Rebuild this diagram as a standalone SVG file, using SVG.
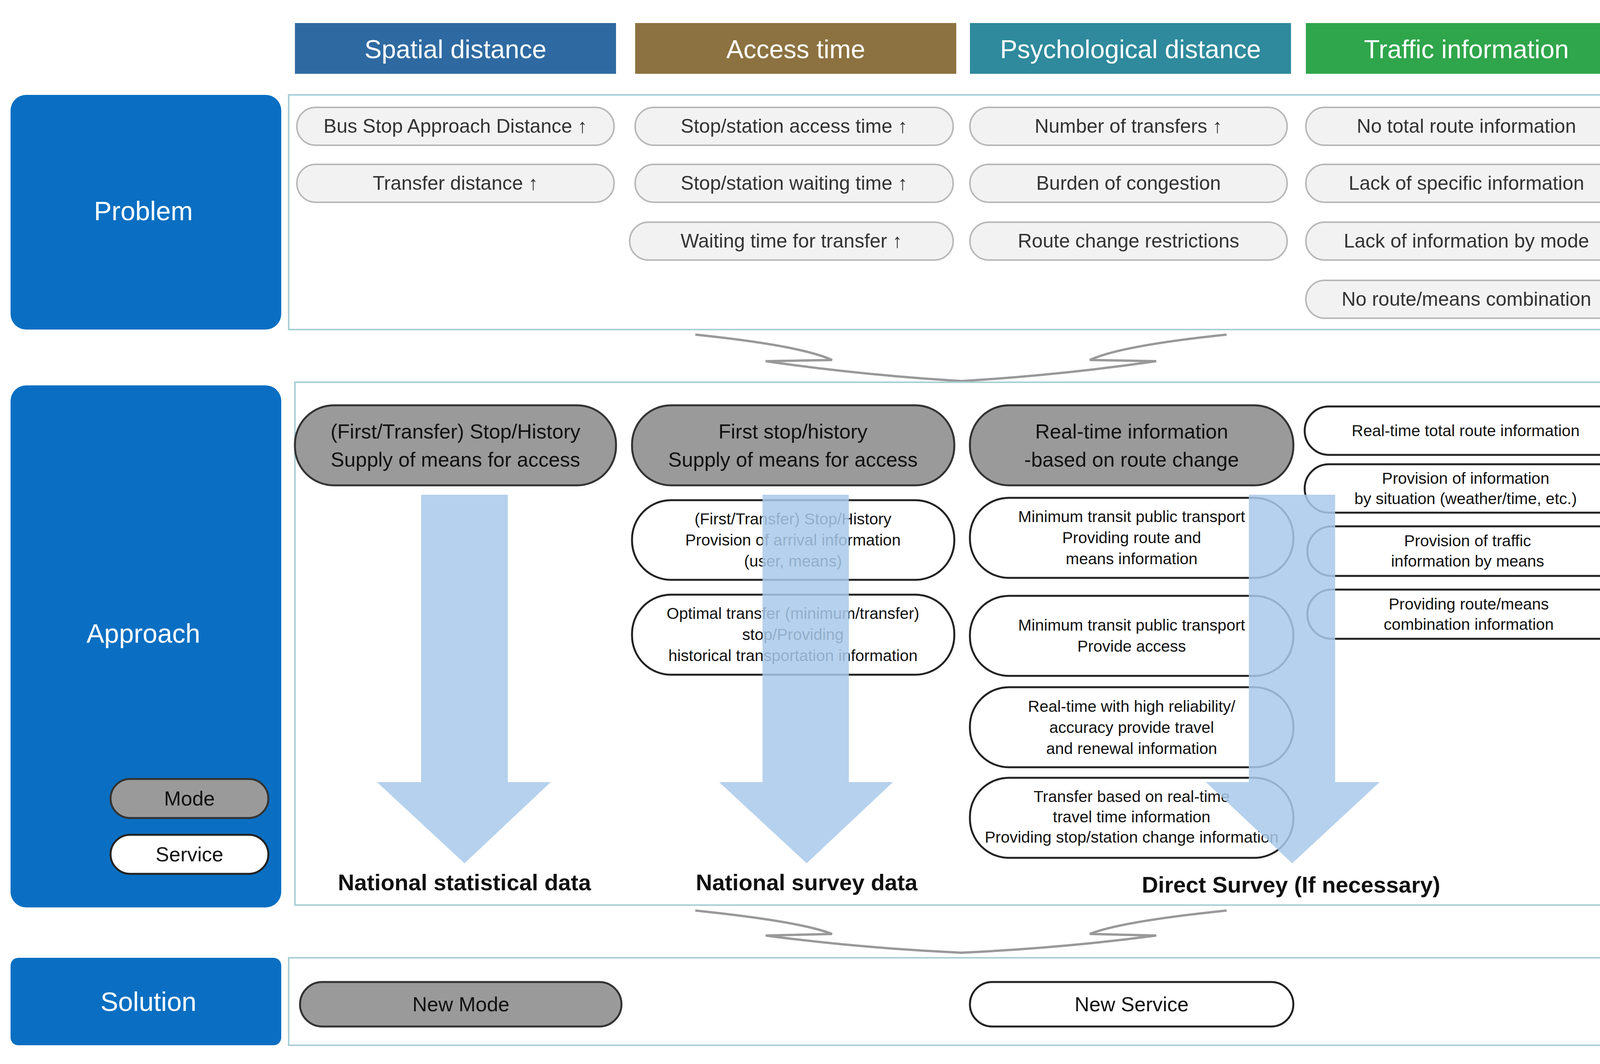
<svg xmlns="http://www.w3.org/2000/svg" width="4227" height="2725" viewBox="0 0 4227 2725">
<style>
text{font-family:"Liberation Sans",Arial,sans-serif;text-anchor:middle;dominant-baseline:central}
.hd{fill:#fff;font-size:66px}
.side{fill:#0a6fc2}
.sidet{fill:#fff;font-size:68px}
.panel{fill:#fff;stroke:#a9cfd6;stroke-width:4}
.pp{fill:#f2f2f2;stroke:#b8b8b8;stroke-width:4}
.pt{fill:#333;font-size:50px}
.gp{fill:#9a9a9a;stroke:#333;stroke-width:5}
.wp{fill:#fff;stroke:#222;stroke-width:5}
.at{fill:#111;font-size:41px}
.gt{fill:#111;font-size:52px}
.lb{fill:#111;font-size:58px;font-weight:bold}
.arr{fill:#a9c9ea;opacity:0.85}
.fun{fill:none;stroke:#999;stroke-width:6}
</style>
<g id="headers">
<rect x="755" y="59" width="822" height="130" fill="#2e6aa1"/><text class="hd" x="1166" y="126">Spatial distance</text>
<rect x="1626" y="59" width="822" height="130" fill="#8c7240"/><text class="hd" x="2037" y="126">Access time</text>
<rect x="2483" y="59" width="822" height="130" fill="#2e8a9c"/><text class="hd" x="2894" y="126">Psychological distance</text>
<rect x="3343" y="59" width="822" height="130" fill="#2fa64b"/><text class="hd" x="3754" y="126">Traffic information</text>
</g>
<g id="problem">
<rect class="side" x="27" y="243" width="693" height="601" rx="40"/><text class="sidet" x="367" y="540">Problem</text>
<rect class="panel" x="739" y="243" width="3456" height="601"/>
<rect class="pp" x="760" y="275" width="812" height="97" rx="48"/><text class="pt" x="1166" y="323">Bus Stop Approach Distance ↑</text>
<rect class="pp" x="760" y="421" width="812" height="97" rx="48"/><text class="pt" x="1166" y="469">Transfer distance ↑</text>
<rect class="pp" x="1626" y="275" width="814" height="97" rx="48"/><text class="pt" x="2033" y="323">Stop/station access time ↑</text>
<rect class="pp" x="1626" y="421" width="814" height="97" rx="48"/><text class="pt" x="2033" y="469">Stop/station waiting time ↑</text>
<rect class="pp" x="1612" y="569" width="828" height="97" rx="48"/><text class="pt" x="2026" y="617">Waiting time for transfer ↑</text>
<rect class="pp" x="2483" y="275" width="812" height="97" rx="48"/><text class="pt" x="2889" y="323">Number of transfers ↑</text>
<rect class="pp" x="2483" y="421" width="812" height="97" rx="48"/><text class="pt" x="2889" y="469">Burden of congestion</text>
<rect class="pp" x="2483" y="569" width="812" height="97" rx="48"/><text class="pt" x="2889" y="617">Route change restrictions</text>
<rect class="pp" x="3343" y="275" width="822" height="97" rx="48"/><text class="pt" x="3754" y="323">No total route information</text>
<rect class="pp" x="3343" y="421" width="822" height="97" rx="48"/><text class="pt" x="3754" y="469">Lack of specific information</text>
<rect class="pp" x="3343" y="569" width="822" height="97" rx="48"/><text class="pt" x="3754" y="617">Lack of information by mode</text>
<rect class="pp" x="3343" y="718" width="822" height="97" rx="48"/><text class="pt" x="3754" y="766">No route/means combination</text>
</g>
<g id="connectors">
<path class="fun" d="M1780 857 Q2050 885 2130 922 L1960 925 Q2200 960 2461 976 Q2720 960 2960 925 L2790 922 Q2870 885 3140 857"/>
<path class="fun" d="M1780 2332 Q2050 2360 2130 2392 L1960 2396 Q2200 2428 2461 2440 Q2720 2428 2960 2396 L2790 2392 Q2870 2360 3140 2332"/>
</g>
<g id="approach">
<rect class="side" x="27" y="987" width="693" height="1337" rx="40"/><text class="sidet" x="367" y="1622">Approach</text>
<rect class="panel" x="755" y="979" width="3453" height="1339"/>
<rect class="gp" x="283" y="1995" width="404" height="100" rx="50"/><text class="gt" x="485" y="2045">Mode</text>
<rect class="wp" x="283" y="2138" width="404" height="100" rx="50"/><text class="gt" x="485" y="2188">Service</text>
<rect class="gp" x="755" y="1038" width="822" height="205" rx="100"/><text class="gt" x="1166" y="1105">(First/Transfer) Stop/History</text><text class="gt" x="1166" y="1177">Supply of means for access</text>
<rect class="gp" x="1618" y="1038" width="825" height="205" rx="100"/><text class="gt" x="2030" y="1105">First stop/history</text><text class="gt" x="2030" y="1177">Supply of means for access</text>
<rect class="gp" x="2483" y="1038" width="828" height="205" rx="100"/><text class="gt" x="2897" y="1105">Real-time information</text><text class="gt" x="2897" y="1177">-based on route change</text>
<rect class="wp" x="1618" y="1281" width="825" height="204" rx="100"/><text class="at" x="2030" y="1329">(First/Transfer) Stop/History</text><text class="at" x="2030" y="1383">Provision of arrival information</text><text class="at" x="2030" y="1437">(user, means)</text>
<rect class="wp" x="1618" y="1523" width="825" height="205" rx="100"/><text class="at" x="2030" y="1571">Optimal transfer (minimum/transfer)</text><text class="at" x="2030" y="1625">stop/Providing</text><text class="at" x="2030" y="1679">historical transportation information</text>
<rect class="wp" x="2483" y="1275" width="828" height="205" rx="100"/><text class="at" x="2897" y="1323">Minimum transit public transport</text><text class="at" x="2897" y="1377">Providing route and</text><text class="at" x="2897" y="1431">means information</text>
<rect class="wp" x="2483" y="1526" width="828" height="205" rx="100"/><text class="at" x="2897" y="1601">Minimum transit public transport</text><text class="at" x="2897" y="1655">Provide access</text>
<rect class="wp" x="2483" y="1760" width="828" height="205" rx="100"/><text class="at" x="2897" y="1809">Real-time with high reliability/</text><text class="at" x="2897" y="1863">accuracy provide travel</text><text class="at" x="2897" y="1917">and renewal information</text>
<rect class="wp" x="2483" y="1992" width="828" height="205" rx="100"/><text class="at" x="2897" y="2040" font-size="38">Transfer based on real-time</text><text class="at" x="2897" y="2092" font-size="38">travel time information</text><text class="at" x="2897" y="2144" font-size="38">Providing stop/station change information</text>
<rect class="wp" x="3340" y="1041" width="825" height="124" rx="62"/><text class="at" x="3752" y="1103">Real-time total route information</text>
<rect class="wp" x="3340" y="1189" width="825" height="124" rx="62"/><text class="at" x="3752" y="1225" font-size="38">Provision of information</text><text class="at" x="3752" y="1277" font-size="38">by situation (weather/time, etc.)</text>
<rect class="wp" x="3347" y="1348" width="825" height="127" rx="62"/><text class="at" x="3757" y="1385">Provision of traffic</text><text class="at" x="3757" y="1437">information by means</text>
<rect class="wp" x="3347" y="1510" width="825" height="126" rx="62"/><text class="at" x="3760" y="1547">Providing route/means</text><text class="at" x="3760" y="1599">combination information</text>
<path class="arr" d="M1078 1267 H1300 V2003 H1410 L1189 2211 L965 2003 H1078 Z"/>
<path class="arr" d="M1952 1267 H2173 V2003 H2286 L2065 2211 L1841 2003 H1952 Z"/>
<path class="arr" d="M3197 1267 H3418 V2003 H3532 L3308 2211 L3087 2003 H3197 Z"/>
<text class="lb" x="1189" y="2259">National statistical data</text>
<text class="lb" x="2065" y="2259">National survey data</text>
<text class="lb" x="3305" y="2265">Direct Survey (If necessary)</text>
</g>
<g id="solution">
<rect class="side" x="27" y="2453" width="693" height="224" rx="20"/><text class="sidet" x="380" y="2565">Solution</text>
<rect class="panel" x="739" y="2453" width="3456" height="224"/>
<rect class="gp" x="768" y="2515" width="823" height="114" rx="57"/><text class="gt" x="1180" y="2572">New Mode</text>
<rect class="wp" x="2483" y="2515" width="828" height="114" rx="57"/><text class="gt" x="2897" y="2572">New Service</text>
</g>
</svg>
